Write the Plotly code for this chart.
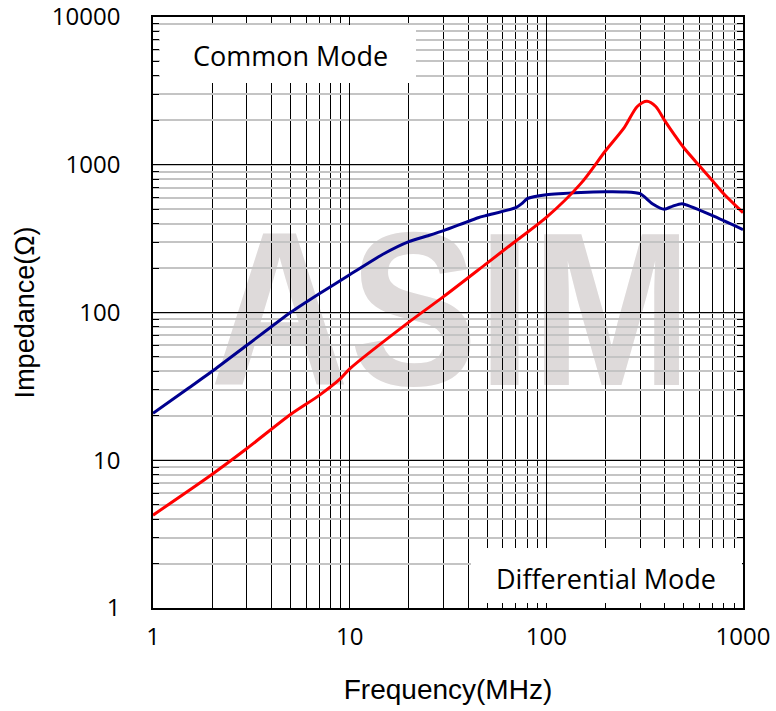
import plotly.graph_objects as go

# ---- data ----
freq_blue = [1, 1.5, 2, 3, 5, 7, 10, 15, 20, 25, 30, 45, 50, 70, 75, 80, 100, 150, 200, 250, 300, 346, 398, 440, 490, 700, 1000]
imp_blue = [20.8, 30.5, 40, 60, 100, 134, 180, 251, 302, 331, 358, 438, 455, 512, 545, 590, 627, 650, 657, 655, 637, 545, 500, 525, 545, 452, 364]

freq_red = [1, 2, 3, 5, 7, 9, 10, 20, 30, 50, 70, 100, 150, 200, 250, 290, 325, 360, 400, 450, 500, 600, 700, 800, 1000]
imp_red = [4.25, 8.04, 12.0, 20.4, 27.5, 35.8, 41.5, 86, 128, 216, 305, 440, 748, 1244, 1800, 2480, 2690, 2480, 1990, 1580, 1303, 985, 780, 633, 474]

x_tickvals = [1, 10, 100, 1000]
x_ticktext = ["1", "10", "100", "1000"]
y_tickvals = [1, 10, 100, 1000, 10000]
y_ticktext = ["1", "10", "100", "1000", "10000"]

label_cm = "Common Mode"
label_dm = "Differential Mode"
watermark = "ASIM"

fig = go.Figure()
fig.add_trace(go.Scatter(x=freq_blue, y=imp_blue, mode="lines",
                         line=dict(color="#00008F", width=3, shape="spline", smoothing=0.6),
                         showlegend=False, hoverinfo="skip"))
fig.add_trace(go.Scatter(x=freq_red, y=imp_red, mode="lines",
                         line=dict(color="#FF0000", width=3, shape="spline", smoothing=0.8),
                         showlegend=False, hoverinfo="skip"))

L, R, T, B = 153, 33, 17, 103
W, H = 776, 711
pw, ph = W - L - R, H - T - B

def px(xp):
    return (xp - L) / pw

def py(yp):
    return (H - B - yp) / ph

shapes = [
    # watermark (below grid)
    dict(type="rect", xref="paper", yref="paper", x0=px(221), x1=px(681), y0=py(371), y1=py(205),
         line=dict(width=0), fillcolor="rgba(0,0,0,0)", layer="below",
         label=dict(text="<b>" + watermark + "</b>",
                    font=dict(family="Liberation Sans, Arial", size=219, color="#DEDADA"),
                    textposition="middle center")),
    # Common mode box
    dict(type="rect", xref="paper", yref="paper", x0=px(160), x1=px(416), y0=py(83), y1=py(25),
         line=dict(width=0), fillcolor="white", layer="above"),
    # Differential mode box
    dict(type="rect", xref="paper", yref="paper", x0=px(471), x1=px(742), y0=py(603), y1=py(548),
         line=dict(width=0), fillcolor="white", layer="above"),
]

annotations = [
    dict(text=label_cm, xref="paper", yref="paper", x=px(290), y=py(56), showarrow=False,
         font=dict(family="Open Sans", size=27, color="black"), xanchor="center", yanchor="middle"),
    dict(text=label_dm, xref="paper", yref="paper", x=px(606), y=py(578), showarrow=False,
         font=dict(family="Open Sans", size=27, color="black"), xanchor="center", yanchor="middle"),
]

fig.update_layout(
    width=W, height=H,
    margin=dict(l=L, r=R, t=T, b=B, autoexpand=False),
    paper_bgcolor="white", plot_bgcolor="white",
    shapes=shapes, annotations=annotations,
    font=dict(family="Open Sans", color="black"),
)

fig.update_xaxes(
    type="log", range=[0, 3], automargin=False,
    tickvals=x_tickvals, ticktext=x_ticktext,
    tickfont=dict(family="Open Sans", size=24, color="black"),
    showgrid=True, gridcolor="black", gridwidth=1.3,
    ticks="inside", ticklen=6, tickcolor="black",
    showline=True, linecolor="black", linewidth=1.5, mirror="ticks",
    ticklabelstandoff=6, ticklabeloverflow="allow",
    minor=dict(dtick="D1", showgrid=True, gridcolor="black", gridwidth=1.3,
               ticks="inside", ticklen=5, tickcolor="black"),
    title=dict(text="Frequency(MHz)", font=dict(family="Liberation Sans", size=28, color="black"), standoff=29),
    zeroline=False,
)
fig.update_yaxes(
    type="log", range=[0, 4], automargin=False,
    tickvals=y_tickvals, ticktext=y_ticktext,
    tickfont=dict(family="Open Sans", size=24, color="black"),
    showgrid=True, gridcolor="black", gridwidth=1.3,
    ticks="inside", ticklen=6, tickcolor="black",
    showline=True, linecolor="black", linewidth=1.5, mirror="ticks",
    ticklabelstandoff=26, ticklabeloverflow="allow",
    minor=dict(dtick="D1", showgrid=True, gridcolor="#C4C4C4", gridwidth=2,
               ticks="inside", ticklen=6, tickcolor="black"),
    title=dict(text="Impedance(Ω)", font=dict(family="Liberation Sans", size=27, color="black"), standoff=9),
    zeroline=False,
)

post = """
document.body.style.margin = '0px';
(function(){
  var els = document.querySelectorAll('text');
  els.forEach(function(e){
    if (e.textContent === 'ASIM') {
      var bb = e.getBBox();
      var cx = bb.x + bb.width / 2;
      var prev = e.getAttribute('transform') || '';
      e.setAttribute('transform', 'translate(' + cx + ',0) scale(0.88,1) translate(' + (-cx) + ',0) ' + prev);
    }
  });
})();
"""

fig.write_html("out.html", post_script=post, config={"displayModeBar": False})
